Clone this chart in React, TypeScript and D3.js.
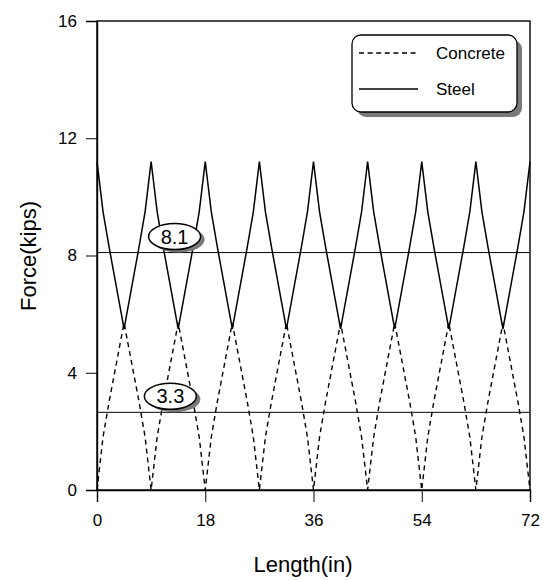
import { useEffect, useRef } from 'react';
import * as d3 from 'd3';

// Positions along the member (in), with force readings at each one
const lengthIn = [
  0, 1, 2, 4.5, 7, 8,
  9, 10, 11, 13.5, 16, 17,
  18, 19, 20, 22.5, 25, 26,
  27, 28, 29, 31.5, 34, 35,
  36, 37, 38, 40.5, 43, 44,
  45, 46, 47, 49.5, 52, 53,
  54, 55, 56, 58.5, 61, 62,
  63, 64, 65, 67.5, 70, 71,
  72,
];

const concreteKips = [
  0, 1.8, 3.0, 5.7, 3.0, 1.8,
  0, 1.8, 3.0, 5.7, 3.0, 1.8,
  0, 1.8, 3.0, 5.7, 3.0, 1.8,
  0, 1.8, 3.0, 5.7, 3.0, 1.8,
  0, 1.8, 3.0, 5.7, 3.0, 1.8,
  0, 1.8, 3.0, 5.7, 3.0, 1.8,
  0, 1.8, 3.0, 5.7, 3.0, 1.8,
  0, 1.8, 3.0, 5.7, 3.0, 1.8,
  0,
];

const steelKips = [
  11.2, 9.5, 8.3, 5.5, 8.3, 9.5,
  11.2, 9.5, 8.3, 5.5, 8.3, 9.5,
  11.2, 9.5, 8.3, 5.5, 8.3, 9.5,
  11.2, 9.5, 8.3, 5.5, 8.3, 9.5,
  11.2, 9.5, 8.3, 5.5, 8.3, 9.5,
  11.2, 9.5, 8.3, 5.5, 8.3, 9.5,
  11.2, 9.5, 8.3, 5.5, 8.3, 9.5,
  11.2, 9.5, 8.3, 5.5, 8.3, 9.5,
  11.2,
];

const seriesNames = ['Concrete', 'Steel'];
const xTicks = [0, 18, 36, 54, 72];
const yTicks = [0, 4, 8, 12, 16];

// horizontal reference lines and the text in their bubbles
const refValues = [8.1, 2.65];
const refLabels = ['8.1', '3.3'];
const refLabelAt = [12.9, 12.2];

const FONT = '"Liberation Sans", Arial, sans-serif';

function ForceChart() {
  const ref = useRef<SVGSVGElement>(null);

  useEffect(() => {
    if (!ref.current) return;
    const svg = d3.select(ref.current);
    svg.selectAll('*').remove();

    const left = 97, right = 530, top = 21, bottom = 490;
    const x = d3.scaleLinear().domain([0, 72]).range([left, right]);
    const y = d3.scaleLinear().domain([0, 16]).range([bottom, top]);

    // frame
    svg.append('rect')
      .attr('x', left).attr('y', top)
      .attr('width', right - left).attr('height', bottom - top)
      .attr('fill', 'white').attr('stroke', 'black').attr('stroke-width', 1.4);

    // axes
    const yAxis = svg.append('g')
      .attr('transform', `translate(${left},0)`)
      .call(d3.axisLeft(y).tickValues(yTicks).tickSize(11).tickPadding(9));
    const xAxis = svg.append('g')
      .attr('transform', `translate(0,${bottom})`)
      .call(d3.axisBottom(x).tickValues(xTicks).tickSize(12).tickPadding(12));
    [xAxis, yAxis].forEach(g => {
      g.select('.domain').attr('stroke-width', 1.4);
      g.selectAll('line').attr('stroke-width', 1);
      g.selectAll('text').attr('font-family', FONT).attr('font-size', 17).attr('fill', 'black');
    });

    // reference lines
    refValues.forEach(v => {
      svg.append('line')
        .attr('x1', left).attr('x2', right)
        .attr('y1', y(v)).attr('y2', y(v))
        .attr('stroke', 'black').attr('stroke-width', 1);
    });

    const pts = lengthIn.map((l, i) => ({ l, c: concreteKips[i], s: steelKips[i] }));

    svg.append('path')
      .datum(pts)
      .attr('fill', 'none').attr('stroke', 'black')
      .attr('stroke-width', 1.4).attr('stroke-dasharray', '5,4')
      .attr('d', d3.line<typeof pts[0]>().x(d => x(d.l)).y(d => y(d.c)));

    svg.append('path')
      .datum(pts)
      .attr('fill', 'none').attr('stroke', 'black')
      .attr('stroke-width', 1.5)
      .attr('d', d3.line<typeof pts[0]>().x(d => x(d.l)).y(d => y(d.s)));

    // bubbles over the reference lines
    refValues.forEach((v, i) => {
      const cx = x(refLabelAt[i]);
      const cy = y(v) - 16;
      svg.append('ellipse')
        .attr('cx', cx + 4).attr('cy', cy + 3).attr('rx', 26).attr('ry', 13)
        .attr('fill', '#7a7a7a');
      svg.append('ellipse')
        .attr('cx', cx).attr('cy', cy).attr('rx', 26).attr('ry', 13)
        .attr('fill', 'white').attr('stroke', 'black').attr('stroke-width', 1.5);
      svg.append('text')
        .attr('x', cx).attr('y', cy + 7)
        .attr('text-anchor', 'middle')
        .attr('font-family', FONT).attr('font-size', 20)
        .text(refLabels[i]);
    });

    // legend
    const legend = svg.append('g').attr('transform', 'translate(352,35)');
    legend.append('rect')
      .attr('x', 5).attr('y', 5).attr('width', 165).attr('height', 77).attr('rx', 9)
      .attr('fill', '#7a7a7a');
    legend.append('rect')
      .attr('width', 165).attr('height', 77).attr('rx', 9)
      .attr('fill', 'white').attr('stroke', 'black').attr('stroke-width', 1.3);
    seriesNames.forEach((name, i) => {
      const ly = 18 + i * 36;
      legend.append('line')
        .attr('x1', 7).attr('x2', 66).attr('y1', ly).attr('y2', ly)
        .attr('stroke', 'black').attr('stroke-width', 1.4)
        .attr('stroke-dasharray', i === 0 ? '5,3.6' : null);
      legend.append('text')
        .attr('x', 84).attr('y', ly + 6)
        .attr('font-family', FONT).attr('font-size', 17)
        .text(name);
    });

    // axis titles
    svg.append('text')
      .attr('transform', 'translate(36,256) rotate(-90)')
      .attr('text-anchor', 'middle')
      .attr('font-family', FONT).attr('font-size', 22)
      .text('Force(kips)');
    svg.append('text')
      .attr('x', 303).attr('y', 572)
      .attr('text-anchor', 'middle')
      .attr('font-family', FONT).attr('font-size', 22)
      .text('Length(in)');
  }, []);

  return <svg ref={ref} width={550} height={580} style={{ display: 'block' }} />;
}

export default function App() {
  return (
    <div style={{ position: 'fixed', left: 0, top: 0, background: 'white' }}>
      <ForceChart />
    </div>
  );
}
